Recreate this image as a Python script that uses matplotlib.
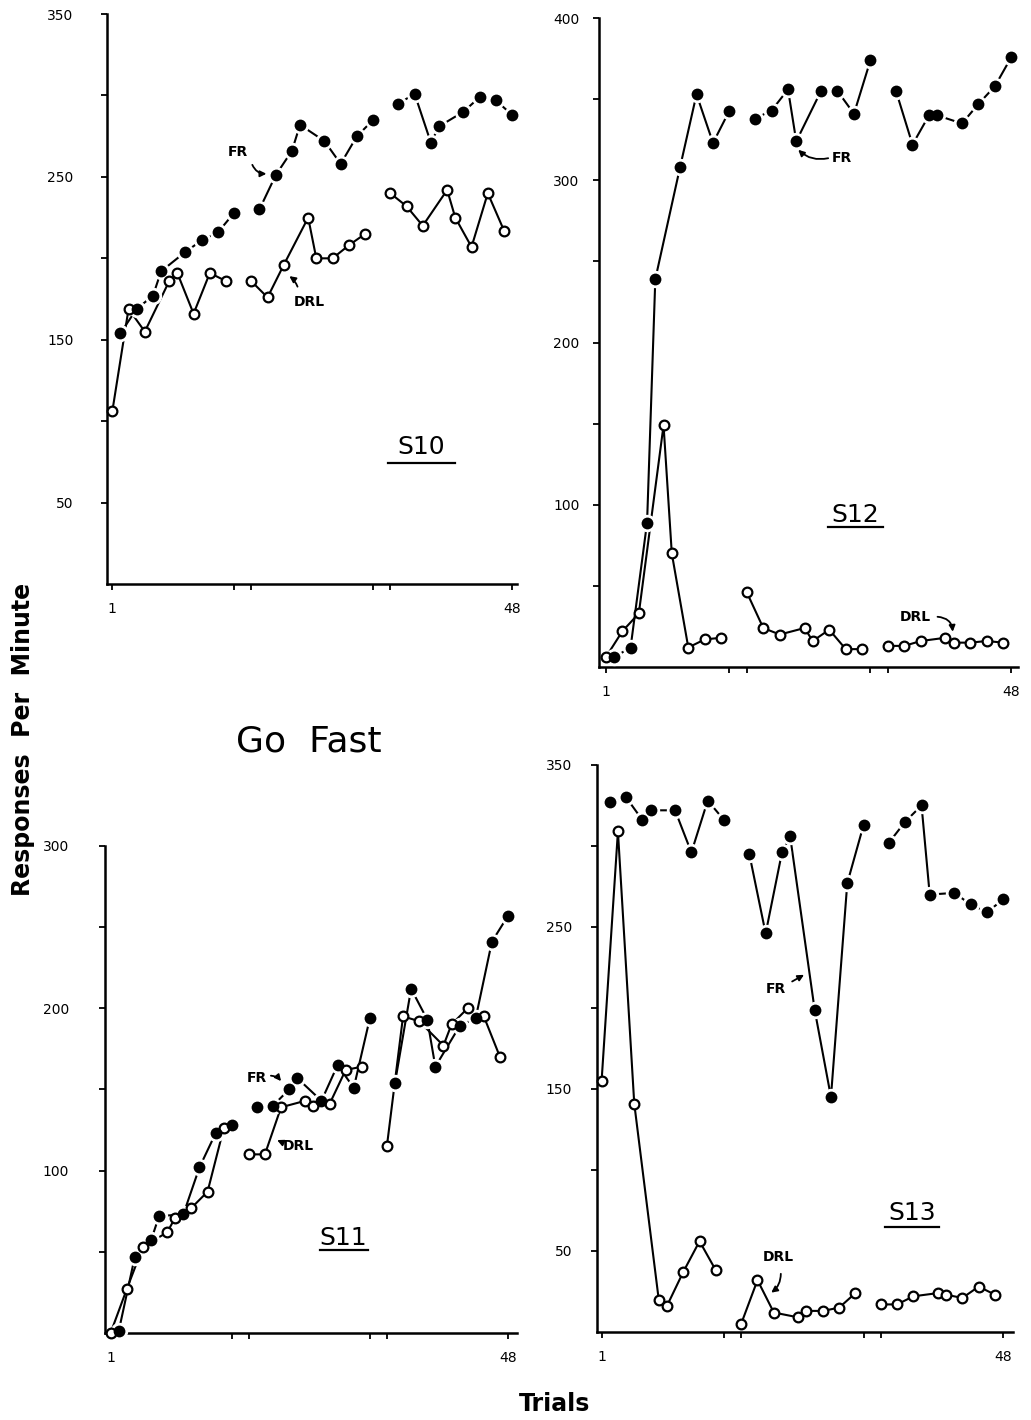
import numpy as np
import matplotlib.pyplot as plt
from matplotlib.lines import Line2D

# trial numbers of each component (3 sessions x 16 trials)
trials_fr = [2, 4, 6, 7, 10, 12, 14, 16, 18, 20, 22, 23, 26, 28, 30, 32,
             34, 36, 38, 39, 42, 44, 46, 48]
trials_drl = [1, 3, 5, 8, 9, 11, 13, 15, 17, 19, 21, 24, 25, 27, 29, 31,
              33, 35, 37, 40, 41, 43, 45, 47]

s10_fr = [154, 169, 177, 192, 204, 211, 216, 228, 230, 251, 266, 282, 272, 258, 275, 285,
          295, 301, 271, 281, 290, 299, 297, 288]
s10_drl = [106, 169, 155, 186, 191, 166, 191, 186, 186, 176, 196, 225, 200, 200, 208, 215,
           240, 232, 220, 242, 225, 207, 240, 217]

s12_fr = [6, 12, 89, 239, 308, 353, 323, 343, 338, 343, 356, 324, 355, 355, 341, 374,
          355, 322, 340, 340, 335, 347, 358, 376]
s12_drl = [6, 22, 33, 149, 70, 12, 17, 18, 46, 24, 20, 24, 16, 23, 11, 11,
           13, 13, 16, 18, 15, 15, 16, 15]

s11_fr = [1, 47, 57, 72, 73, 102, 123, 128, 139, 140, 150, 157, 143, 165, 151, 194,
          154, 212, 193, 164, 189, 194, 241, 257]
s11_drl = [0, 27, 53, 62, 71, 77, 87, 126, 110, 110, 139, 143, 140, 141, 162, 164,
           115, 195, 192, 177, 190, 200, 195, 170]

s13_fr = [327, 330, 316, 322, 322, 296, 328, 316, 295, 246, 296, 306, 199, 145, 277, 313,
          302, 315, 325, 270, 271, 264, 259, 267]
s13_drl = [155, 309, 141, 20, 16, 37, 56, 38, 5, 32, 12, 9, 13, 13, 15, 24,
           17, 17, 22, 24, 23, 21, 28, 23]

GAP = 1.1  # extra space between sessions on the x axis
NARROW = ['Liberation Sans Narrow', 'DejaVu Sans']


def pos(t):
    t = np.asarray(t)
    return t + GAP * ((t - 1) // 16)


def draw_panel(ax, fr, drl, ymax, ylabs, xlim, ypad, name, name_xy, line_x, line_y):
    fr = np.asarray(fr)
    drl = np.asarray(drl)
    tf = np.asarray(trials_fr)
    td = np.asarray(trials_drl)
    for b in range(3):
        sl = slice(8 * b, 8 * b + 8)
        ax.plot(pos(td[sl]), drl[sl], '-', color='k', lw=1.5, zorder=2)
        ax.plot(pos(tf[sl]), fr[sl], '-', color='k', lw=1.5, zorder=2)
        ax.plot(pos(tf[sl]), fr[sl], 'o', ms=11.5, color='white', zorder=3, clip_on=False)
        ax.plot(pos(td[sl]), drl[sl], 'o', ms=7, mfc='white', mec='k', mew=1.6,
                zorder=4, clip_on=False)
        ax.plot(pos(tf[sl]), fr[sl], 'o', ms=8.5, color='k', mew=0, zorder=5, clip_on=False)

    ax.set_xlim(*xlim)
    ax.set_ylim(0, ymax)
    for s in ['top', 'right']:
        ax.spines[s].set_visible(False)
    for s in ['left', 'bottom']:
        ax.spines[s].set_linewidth(1.8)

    xt = pos([1, 16, 17, 32, 33, 48])
    ax.set_xticks(xt)
    ax.set_xticklabels(['1', '', '', '', '', '48'])
    yt = np.arange(50, ymax + 1, 50)
    ax.set_yticks(yt)
    ax.set_yticklabels([str(v) if v in ylabs else '' for v in yt])
    ax.tick_params(axis='x', direction='out', length=4, width=1.3, pad=9, labelsize=10)
    ax.tick_params(axis='y', direction='out', length=4, width=1.3, pad=ypad, labelsize=10)
    for lab in ax.get_xticklabels() + ax.get_yticklabels():
        lab.set_family(NARROW)

    ax.text(name_xy[0], name_xy[1], name, transform=ax.transAxes, fontsize=18,
            ha='center', va='center')
    ax.add_line(Line2D(line_x, [line_y, line_y], transform=ax.transAxes, color='k', lw=1.6))


def note(ax, label, text_xy, start, tip, rad):
    ax.text(text_xy[0], text_xy[1], label, fontsize=10, ha='center', va='center',
            family=NARROW, fontweight='bold')
    ax.annotate('', xy=tip, xytext=start,
                arrowprops=dict(arrowstyle='-|>', color='k', lw=1.3,
                                mutation_scale=9,
                                connectionstyle='arc3,rad=%s' % rad))


fig = plt.figure(figsize=(10.31, 14.2), dpi=100)

ax10 = fig.add_axes([0.1038, 0.5887, 0.3977, 0.4014])
draw_panel(ax10, s10_fr, s10_drl, 350, [50, 150, 250, 350], (0.35, 50.8), 20,
           'S10', (0.766, 0.240), (0.685, 0.849), 0.212)
note(ax10, 'FR', (16.5, 265), (18.1, 259), (20.3, 252), 0.4)
note(ax10, 'DRL', (25.3, 173), (23.9, 181), (22.5, 190), 0.2)

ax12 = fig.add_axes([0.581, 0.5303, 0.4064, 0.457])
draw_panel(ax12, s12_fr, s12_drl, 400, [100, 200, 300, 400], (0.17, 51.0), 10,
           'S12', (0.611, 0.234), (0.547, 0.678), 0.215)
note(ax12, 'FR', (29.6, 314), (28.3, 314), (24.1, 320), -0.3)
note(ax12, 'DRL', (38.5, 31), (40.9, 31), (43.1, 20), -0.5)

ax11 = fig.add_axes([0.1018, 0.0613, 0.3996, 0.343])
draw_panel(ax11, s11_fr, s11_drl, 300, [100, 200, 300], (0.3, 51.3), 22,
           'S11', (0.578, 0.195), (0.522, 0.638), 0.170)
note(ax11, 'FR', (19.1, 157), (20.5, 158.5), (22.3, 153.7), -0.3)
note(ax11, 'DRL', (24.2, 115), (22.5, 116.8), (21.3, 119.5), 0.0)

ax13 = fig.add_axes([0.579, 0.062, 0.4035, 0.3993])
draw_panel(ax13, s13_fr, s13_drl, 350, [50, 150, 250, 350], (0.43, 51.4), 14,
           'S13', (0.758, 0.209), (0.692, 0.823), 0.185)
note(ax13, 'FR', (22.4, 212), (24.05, 215.5), (26.1, 221.3), 0.0)
note(ax13, 'DRL', (22.6, 46), (22.95, 37.6), (21.5, 23.3), -0.3)

fig.text(0.2997, 0.478, 'Go  Fast', fontsize=26, ha='center', va='center')
fig.text(0.022, 0.479, 'Responses  Per  Minute', fontsize=17, fontweight='bold',
         rotation=90, ha='center', va='center')
fig.text(0.538, 0.011, 'Trials', fontsize=17, fontweight='bold', ha='center', va='center')

fig.savefig('out.png', dpi=100)
